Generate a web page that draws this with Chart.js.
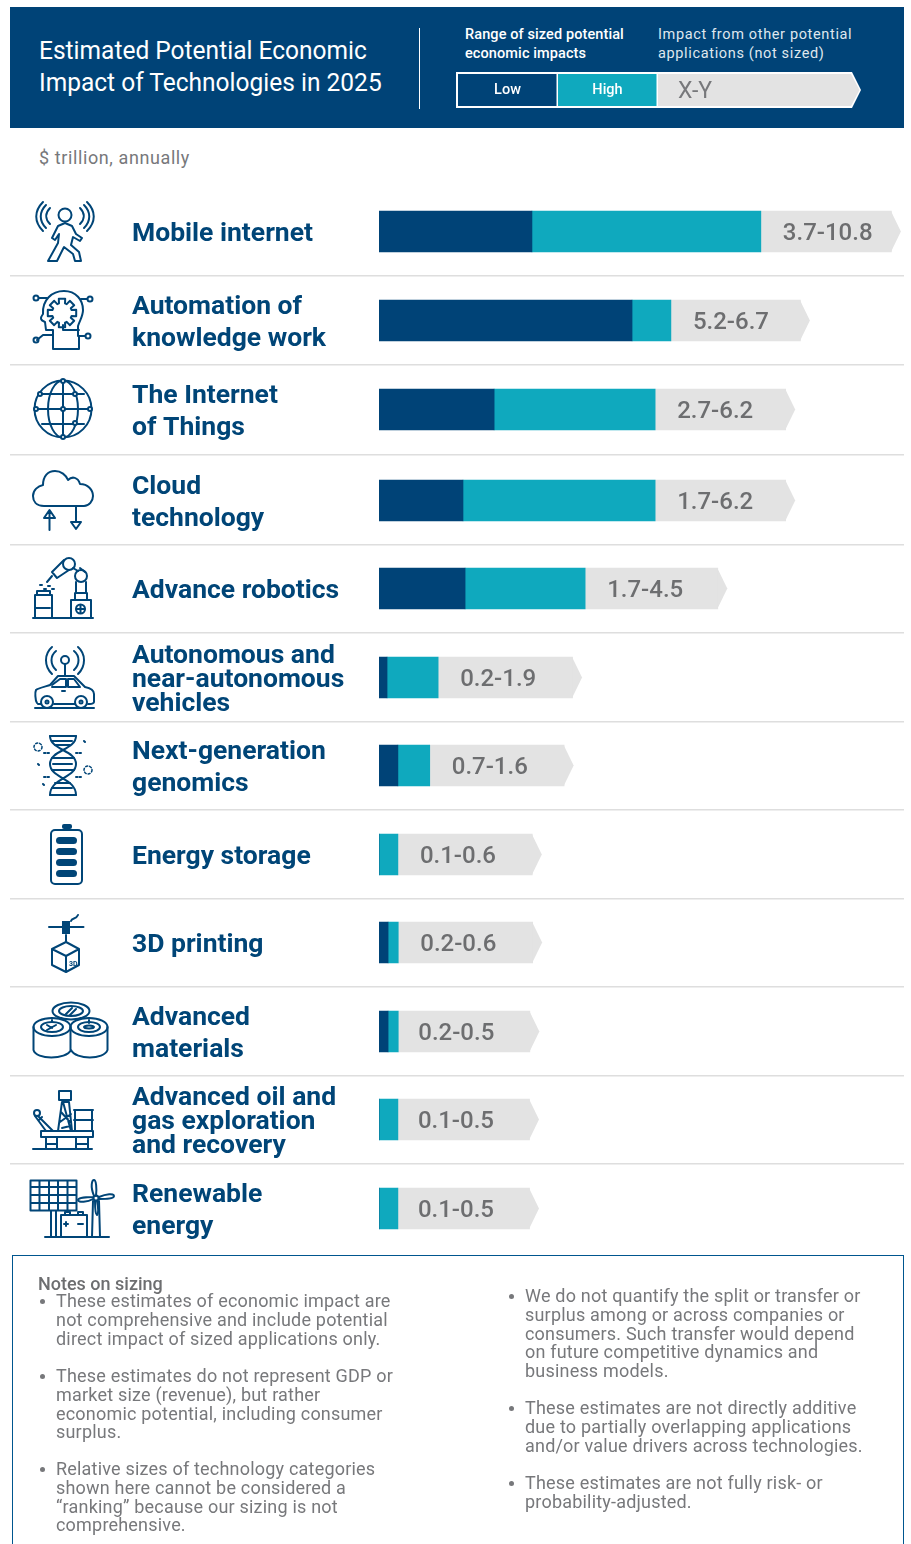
<!DOCTYPE html>
<html><head><meta charset="utf-8">
<script src="https://cdn.jsdelivr.net/npm/chart.js@4/dist/chart.umd.js"></script>
<style>
html,body{margin:0;padding:0;background:#fff;width:911px;height:1544px;overflow:hidden;font-family:Roboto,sans-serif}
#c{position:absolute;left:0;top:0}
.a{position:absolute;white-space:nowrap}
#head{position:absolute;left:10px;top:7px;width:894px;height:121px;background:#004377}
#notes{position:absolute;left:12px;top:1255px;width:892px;height:295px;border:1px solid #00568f;box-sizing:border-box}
.t{color:#fff;font-size:26.5px;line-height:31.5px;font-weight:400;transform:scaleX(.925);transform-origin:0 0}
.n{color:#77787b;font-size:18px;line-height:18.75px;letter-spacing:.2px}
.b{position:absolute;width:5px;height:5px;border-radius:50%;background:#77787b}
svg{position:absolute;left:0;top:0}
svg .i{fill:none;stroke:#004577;stroke-width:2;stroke-linecap:round;stroke-linejoin:round}
svg .f{fill:#004577;stroke:none}
</style></head><body>
<div id="head"></div>
<div class="a t" style="left:39px;top:34px">Estimated Potential Economic<br>Impact of Technologies in 2025</div>
<div class="a" style="left:419px;top:28px;width:1px;height:81px;background:#fff"></div>
<div class="a" style="left:465px;top:25px;color:#fff;font-size:14.5px;line-height:19px;font-weight:500;letter-spacing:.1px">Range of sized potential<br>economic impacts</div>
<div class="a" style="left:658px;top:25px;color:#dfe7ee;font-size:14.5px;line-height:19px;letter-spacing:.65px">Impact from other potential<br>applications (not sized)</div>
<svg width="911" height="140" style="z-index:1">
<path d="M456 72H852L861 90L852 108H456Z" fill="#fff"/>
<rect x="458" y="74" width="98.500" height="32" fill="#004377"/>
<rect x="558" y="74" width="98.500" height="32" fill="#0fa9be"/>
<path d="M658 74H851L859.500 90L851 106H658Z" fill="#e3e3e3"/>
</svg>
<div class="a" style="left:458px;top:81px;width:99px;text-align:center;color:#fff;font-size:14.5px;z-index:2;font-weight:500">Low</div>
<div class="a" style="left:558px;top:81px;width:99px;text-align:center;color:#fff;font-size:14.5px;z-index:2;font-weight:500">High</div>
<div class="a" style="left:678px;top:77px;color:#77787b;font-size:23px;z-index:2">X-Y</div>
<div class="a" style="left:39px;top:147px;color:#77787b;font-size:18px;letter-spacing:.6px">$ trillion, annually</div>

<canvas id="c" width="911" height="1544"></canvas>

<svg width="911" height="1260">
<!-- mobile internet -->
<g class="i">
<circle cx="65" cy="215" r="6.500"/>
<path d="M58 226L65 223L72 226L76 234L82 238L80 241L73 237L71 245L79 252L81 261H75L73 254L64 247L57 261H48L58 243L59 234L55 240L52 238Z"/>
<path d="M46 205C39 212 39 221 46 228M50 208C45 213 45 219 50 224M84 205C91 212 91 221 84 228M80 208C85 213 85 219 80 224M43 202C34 211 34 222 43 231M87 202C96 211 96 222 87 231"/>
</g>
<!-- automation -->
<g class="i">
<path d="M45 322C40 320 40 318 43 314C42 300 52 291 64 291C76 291 83 300 83 310C83 316 80 320 78 326V336M45 322L46 330H53V349H79V336M53 335H43L37 340M63 330H79M63 330V325"/>
<path id="gear"/>
<path d="M39 298H47M81 299H87M79 336H85"/>
<circle cx="36" cy="298" r="2.500"/><circle cx="90" cy="299" r="2.500"/><circle cx="36" cy="340" r="2.500"/><circle cx="88" cy="336" r="2.500"/>
</g>
<!-- IoT -->
<g class="i">
<circle cx="63" cy="409" r="28.500"/><ellipse cx="63" cy="409" rx="15" ry="28.500"/>
<path d="M63 381V437M36 409H90M42 394H84M42 424H84"/>
<circle cx="63" cy="381" r="2" fill="#fff"/><circle cx="63" cy="437" r="2" fill="#fff"/><circle cx="36" cy="409" r="2" fill="#fff"/><circle cx="90" cy="409" r="2" fill="#fff"/><circle cx="63" cy="409" r="2" fill="#fff"/><circle cx="40" cy="394" r="2" fill="#fff"/><circle cx="75" cy="394" r="2" fill="#fff"/><circle cx="75" cy="423" r="2" fill="#fff"/>
</g>
<!-- cloud -->
<g class="i">
<path d="M44 506C36 506 33 501 33 496C33 490 38 486 43 485C43 476 48 471 55 471C61 471 66 475 68 480C72 476 78 477 80 484C88 484 93 490 93 496C93 501 89 506 84 506Z"/>
<path d="M49.500 530V511M44 518L49.500 510L55 518ZM76 506V522M71 522H81L76 529Z"/>
</g>
<!-- robotics -->
<g class="i">
<path d="M33 618H93M71 618V600H91V618M75 600V593H87V600M76 593V582M86 593V582"/>
<circle cx="81" cy="576" r="6"/><circle cx="69" cy="564" r="6"/>
<path d="M64 560L52 572L57 578L69 570M73 568L78 571M85 572L80 568M52 576L47 582"/>
<circle cx="80.500" cy="609" r="4.500"/><path d="M80.500 605V613M76.500 609H84.500"/>
<path d="M35 618V595H52V618M35 608H50M37 595V591H50V595"/>
<path d="M40 585h2M44 589h2M48 586h2M52 589h2" />
</g>
<!-- autonomous -->
<g class="i">
<circle cx="65" cy="660" r="4"/><path d="M65 664V675"/>
<path d="M56 670C50 664 50 656 56 651M74 670C80 664 80 656 74 651M52 674C44 666 44 654 52 647M78 674C86 666 86 654 78 647"/>
<path d="M37 703C35 700 35 692 36 690C38 688 48 686 50 685L58 676H74L85 687C90 688 94 690 94 694V702C94 703 92 704 90 704H88M75 704H54M41 704H38"/>
<path d="M52 685L60 679H66V687H52M68 679H74L80 687H68ZM62 691H65"/>
<circle cx="47" cy="702" r="6"/><circle cx="81" cy="702" r="6"/><circle cx="47" cy="702" r="1.500"/><circle cx="81" cy="702" r="1.500"/>
<path d="M35 708H94"/>
</g>
<!-- genomics -->
<g class="i">
<path d="M50 736C50 750 76 750 76 764C76 778 50 778 50 795M76 736C76 750 50 750 50 764C50 778 76 778 76 795"/>
<path d="M50 736H76M52 741H72M55 745H70M52 758H74M53 764H72M52 770H74M55 783H70M52 788H72M50 795H76"/>
<circle cx="38" cy="747" r="4" stroke-width="1.500" stroke-dasharray="2 2"/><circle cx="88" cy="770" r="4" stroke-width="1.500" stroke-dasharray="2 2"/>
<path d="M44 753h6M76 753h6M44 777h6M76 777h6" stroke-dasharray="1.500 2"/>
<path d="M84 741l1 1M38 764l1 1M43 784l1 1"/>
</g>
<!-- battery -->
<g>
<rect class="i" x="51" y="830" width="31" height="54" rx="4" stroke-width="2.500"/>
<rect class="f" x="62" y="824" width="10" height="5" rx="2"/>
<rect class="f" x="56" y="837" width="21" height="7" rx="3.500"/><rect class="f" x="56" y="848" width="21" height="7" rx="3.500"/><rect class="f" x="56" y="859" width="21" height="7" rx="3.500"/><rect class="f" x="56" y="870" width="21" height="7" rx="3.500"/>
</g>
<!-- 3D printing -->
<g>
<path class="i" d="M49 927H83.500M71 921C72 917 76 920 78 915M66 935V941"/>
<rect class="f" x="62" y="921" width="8" height="13"/>
<path class="i" d="M66 942L79 949V965L66 972L52 965V949ZM52 949L66 956L79 949M66 956V972"/>
<text x="69" y="966" font-size="7" font-weight="700" fill="#004577" font-family="Roboto">3D</text>
</g>
<!-- materials -->
<g class="i">
<ellipse cx="71" cy="1011" rx="18.500" ry="8.500"/><ellipse cx="71" cy="1011" rx="12" ry="5"/>
<path d="M66 1014L72 1008M70 1015L76 1009M52 1020V1022M89 1020V1023"/>
<ellipse cx="52" cy="1027" rx="18.500" ry="9"/><ellipse cx="52" cy="1027" rx="11" ry="5"/>
<ellipse cx="89" cy="1027" rx="18.500" ry="9"/><ellipse cx="89" cy="1027" rx="11" ry="5"/><ellipse cx="89" cy="1027" rx="5" ry="1.500"/>
<path d="M33.500 1027V1050C36 1060 66 1060 71 1050C76 1060 104 1060 107.500 1050V1027M70.500 1027V1050M47 1030L56 1025M47 1025L52 1028"/>
</g>
<!-- oil -->
<g class="i">
<rect x="41" y="1131" width="52" height="6"/>
<path d="M33 1149H92M46 1137V1149M57 1137V1149M76 1137V1149M88 1137V1149M46 1144H57M76 1144H88"/>
<path d="M58 1131L62 1102H69L72 1131M60 1122L71 1114M61 1112L70 1122M59 1100H71V1091H59ZM63 1102L71 1131M62 1128L70 1126"/>
<path d="M75 1131V1110H92V1131M74 1120H93M74 1110H93"/>
<circle cx="37" cy="1113" r="3"/><path d="M38 1116L53 1131M35 1116L46 1131M39 1120L42 1117"/>
</g>
<!-- renewable -->
<g>
<g class="i" stroke-linecap="butt">
<rect x="30.500" y="1180.500" width="46" height="30"/>
<path d="M39.500 1181V1210M49 1181V1210M58 1181V1210M67.500 1181V1210M31 1187H76M31 1195H76M31 1203H76"/>
<path d="M51 1211V1236M56 1211V1236"/>
<path d="M45 1237H109M61 1237V1215H87V1237M65 1214V1212H70V1214M78 1214V1212H83V1214M66 1222V1226M64 1224H68M78 1224H83"/>
<path d="M93 1201L92 1237M99 1201L100 1237"/>
<circle cx="96" cy="1198" r="2.500"/>
<path d="M94 1196C90 1186 92 1180 94 1180C96 1180 97 1188 96 1196M99 1197C106 1194 114 1193 114 1196C114 1199 106 1199 99 1199M93 1199C88 1202 78 1203 78 1200C78 1198 86 1197 93 1197M95 1201C95 1206 95 1214 97 1215C99 1213 98 1206 97 1201"/>
</g></g>
</svg>

<div id="notes"></div>
<div class="a" style="left:38px;top:1274px;color:#6d6e70;font-size:18px;line-height:19px;font-weight:500">Notes on sizing</div>
<div class="b" style="left:40px;top:1299px"></div>
<div class="a n" style="left:56px;top:1292px">These estimates of economic impact are<br>not comprehensive and include potential<br>direct impact of sized applications only.</div>
<div class="b" style="left:40px;top:1374px"></div>
<div class="a n" style="left:56px;top:1367px">These estimates do not represent GDP or<br>market size (revenue), but rather<br>economic potential, including consumer<br>surplus.</div>
<div class="b" style="left:40px;top:1467px"></div>
<div class="a n" style="left:56px;top:1460px">Relative sizes of technology categories<br>shown here cannot be considered a<br>“ranking” because our sizing is not<br>comprehensive.</div>
<div class="b" style="left:509px;top:1294px"></div>
<div class="a n" style="left:525px;top:1287px">We do not quantify the split or transfer or<br>surplus among or across companies or<br>consumers. Such transfer would depend<br>on future competitive dynamics and<br>business models.</div>
<div class="b" style="left:509px;top:1406px"></div>
<div class="a n" style="left:525px;top:1399px">These estimates are not directly additive<br>due to partially overlapping applications<br>and/or value drivers across technologies.</div>
<div class="b" style="left:509px;top:1481px"></div>
<div class="a n" style="left:525px;top:1474px">These estimates are not fully risk- or<br>probability-adjusted.</div>

<script>
// Categories (line breaks as printed)
const technologies = [
  ['Mobile internet'],['Automation of','knowledge work'],['The Internet','of Things'],['Cloud','technology'],
  ['Advance robotics'],['Autonomous and','near-autonomous','vehicles'],['Next-generation','genomics'],['Energy storage'],
  ['3D printing'],['Advanced','materials'],['Advanced oil and','gas exploration','and recovery'],['Renewable','energy']
];
// Range labels as printed, $ trillion
const rangeLabels = ['3.7-10.8','5.2-6.7','2.7-6.2','1.7-6.2','1.7-4.5','0.2-1.9','0.7-1.6','0.1-0.6','0.2-0.6','0.2-0.5','0.1-0.5','0.1-0.5'];
// Segment lengths as drawn in the picture (the artwork's bars are not strictly proportional to the printed labels)
const lowSegment  = [4.37,7.23,3.29,2.40,2.46,0.23,0.54,0,0.26,0.26,0,0];
const highSegment = [6.54,1.11,4.60,5.49,3.43,1.46,0.91,0.54,0.29,0.29,0.54,0.54];
const otherSegment= [3.73,3.70,3.73,3.73,3.79,3.84,3.84,3.84,3.84,3.76,3.76,3.76];

const NAVY='#004377', TEAL='#0fa9be', GREY='#e3e3e3', TEXTGREY='#6d6e70';
const ROW_NUDGE=[0,.2,.4,2.6,1.8,2,1.2,1.4,.6,.8,0,.2]; // the artwork's rows are very slightly uneven

// gear outline of the automation icon
(function(){const cx=62,cy=313,n=8;let d='';
 for(let k=0;k<n;k++){const a=k*2*Math.PI/n;
  [[-.30,10],[-.22,14.500],[.22,14.500],[.30,10]].forEach((p,j)=>{
    const t=a+p[0];d+=(k===0&&j===0?'M':'L')+(cx+p[1]*Math.cos(t)).toFixed(1)+' '+(cy+p[1]*Math.sin(t)).toFixed(1);});}
 document.getElementById('gear').setAttribute('d',d+'Z');})();

class RowScale extends Chart.CategoryScale{
  getPixelForValue(v,i){
    const p=super.getPixelForValue(v,i);
    const k=typeof v==='number'?Math.round(v):0;
    return p+(ROW_NUDGE[k]||0);
  }
}
RowScale.id='rows';
RowScale.defaults=Chart.CategoryScale.defaults;
Chart.register(RowScale);

const arrowPlugin={id:'arrow',
  afterDatasetsDraw(ch){
    const ctx=ch.ctx, meta=ch.getDatasetMeta(2);
    ctx.save();
    meta.data.forEach((el,i)=>{
      const hh=el.height/2;
      ctx.fillStyle=GREY;
      ctx.beginPath();ctx.moveTo(el.x-.5,el.y-hh);ctx.lineTo(el.x+9.500,el.y);ctx.lineTo(el.x-.5,el.y+hh);ctx.closePath();ctx.fill();
      ctx.fillStyle=TEXTGREY;
      ctx.font='500 24px Roboto, sans-serif';
      ctx.textAlign='left';ctx.textBaseline='middle';
      ctx.fillText(rangeLabels[i],el.base+(i>=9?20:22),el.y+2.5);
    });
    ctx.restore();
  }
};

new Chart(document.getElementById('c'),{
  type:'bar',
  data:{labels:technologies,datasets:[
    {label:'Low',data:lowSegment,backgroundColor:NAVY},
    {label:'High',data:highSegment,backgroundColor:TEAL},
    {label:'Impact from other potential applications (not sized)',data:otherSegment,backgroundColor:GREY}
  ]},
  options:{
    indexAxis:'y',responsive:false,animation:false,devicePixelRatio:1,
    layout:{padding:{left:132,right:7,top:187.100,bottom:291.300}},
    plugins:{legend:{display:false},tooltip:{enabled:false},title:{display:false}},
    datasets:{bar:{barThickness:41,borderWidth:0}},
    scales:{
      x:{type:'linear',stacked:true,min:0,max:15,display:false},
      y:{type:'rows',stacked:true,border:{display:false},
        afterFit(s){s.width=247;},
        grid:{offset:true,tickLength:369,lineWidth:1.5,drawTicks:true,
          color:c=>(c.index===0||c.index>=12)?'rgba(0,0,0,0)':'#dedede',
          tickColor:c=>(c.index===0||c.index>=12)?'rgba(0,0,0,0)':'#dedede'},
        ticks:{crossAlign:'far',padding:0,autoSkip:false,color:'#004577',labelOffset:3,
          font:c=>({family:'Roboto, sans-serif',size:26.5,weight:'700',
            lineHeight:(technologies[c.index]&&technologies[c.index].length===3)?24/26.5:32/26.5})}
      }
    }
  },
  plugins:[arrowPlugin]
});
</script>
</body></html>
